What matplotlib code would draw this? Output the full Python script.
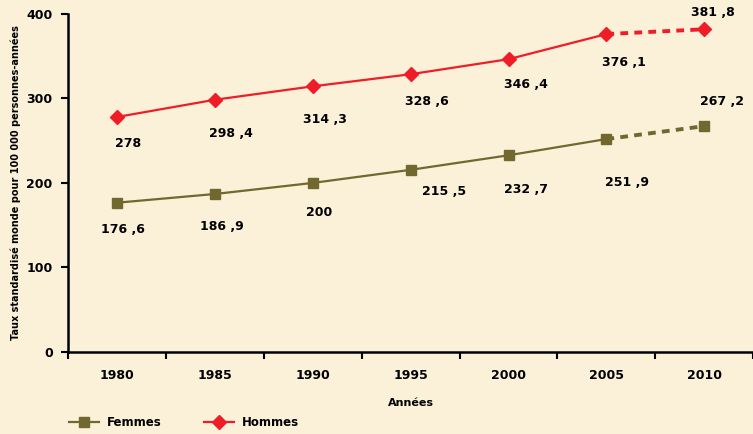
import matplotlib.pyplot as plt
import numpy as np

years = ["1980", "1985", "1990", "1995", "2000", "2005", "2010"]
femmes = [176.6, 186.9, 200, 215.5, 232.7, 251.9, 267.2]
hommes = [278, 298.4, 314.3, 328.6, 346.4, 376.1, 381.8]
femmes_lbl = ["176 ,6", "186 ,9", "200", "215 ,5", "232 ,7", "251 ,9", "267 ,2"]
hommes_lbl = ["278", "298 ,4", "314 ,3", "328 ,6", "346 ,4", "376 ,1", "381 ,8"]

# label offsets in pixels (dx, dy) relative to the marker
femmes_off = [(6, -27), (7, -32), (6, -30), (33, -22), (17, -34), (21, -43), (18, 25)]
hommes_off = [(11, -26), (16, -34), (12, -33), (16, -27), (17, -25), (18, -28), (9, 17)]

RED = "#EE1D27"
OLIVE = "#716830"
BG = "#FBF1D9"

plt.rcParams["font.family"] = ["DejaVu Sans"]
plt.rcParams["font.weight"] = "bold"

fig = plt.figure(figsize=(7.53, 4.34), dpi=100, facecolor=BG)
ax = fig.add_axes([0.0903, 0.189, 0.91, 0.779])
ax.set_facecolor(BG)

x = np.arange(len(years))

# solid part up to 2005, dashed for 2010
ax.plot(x[:6], femmes[:6], color=OLIVE, lw=1.6, zorder=2)
ax.plot(x[5:], femmes[5:], color=OLIVE, lw=2.8, ls=(0, (2, 1.6)), zorder=2)
ax.plot(x, femmes, ls="none", marker="s", ms=7.5, color=OLIVE, zorder=3)

ax.plot(x[:6], hommes[:6], color=RED, lw=1.6, zorder=2)
ax.plot(x[5:], hommes[5:], color=RED, lw=2.8, ls=(0, (2, 1.6)), zorder=2)
ax.plot(x, hommes, ls="none", marker="D", ms=7.5, color=RED, zorder=3)

for xi, v, lab, off in zip(x, femmes, femmes_lbl, femmes_off):
    ax.annotate(lab, (xi, v), xytext=off, textcoords="offset pixels",
                ha="center", va="center", fontsize=9, fontweight="bold")
for xi, v, lab, off in zip(x, hommes, hommes_lbl, hommes_off):
    ax.annotate(lab, (xi, v), xytext=off, textcoords="offset pixels",
                ha="center", va="center", fontsize=9, fontweight="bold")

ax.set_xlim(-0.5, 6.5)
ax.set_ylim(0, 400)
ax.set_yticks([0, 100, 200, 300, 400])
ax.set_xticks(x)
ax.set_xticklabels(years)
ax.set_xticks(np.arange(-0.5, 7.0, 1.0), minor=True)
ax.tick_params(axis="x", which="major", length=0, pad=12, labelsize=9)
ax.tick_params(axis="x", which="minor", length=5, width=1.5, direction="out")
ax.tick_params(axis="y", length=5, width=1.5, direction="out", labelsize=9, pad=6)
for lbl in ax.get_xticklabels() + ax.get_yticklabels():
    lbl.set_fontweight("bold")

for s in ["top", "right"]:
    ax.spines[s].set_visible(False)
for s in ["left", "bottom"]:
    ax.spines[s].set_linewidth(1.8)

ax.set_xlabel("Années", fontsize=8, fontweight="bold", labelpad=12)
ax.set_ylabel("Taux standardisé monde pour 100 000 personnes-années",
              fontsize=7, fontweight="bold", labelpad=4)

h1, = ax.plot([], [], color=OLIVE, lw=1.6, marker="s", ms=7)
h2, = ax.plot([], [], color=RED, lw=1.6, marker="D", ms=7)
fig.legend([h1, h2], ["Femmes", "Hommes"], loc="lower left",
           bbox_to_anchor=(0.077, -0.013), ncol=2, frameon=False,
           handlelength=2.6, handletextpad=0.6, columnspacing=3.6,
           prop={"weight": "bold", "size": 8.5})

fig.savefig("out.png", dpi=100, facecolor=BG)
